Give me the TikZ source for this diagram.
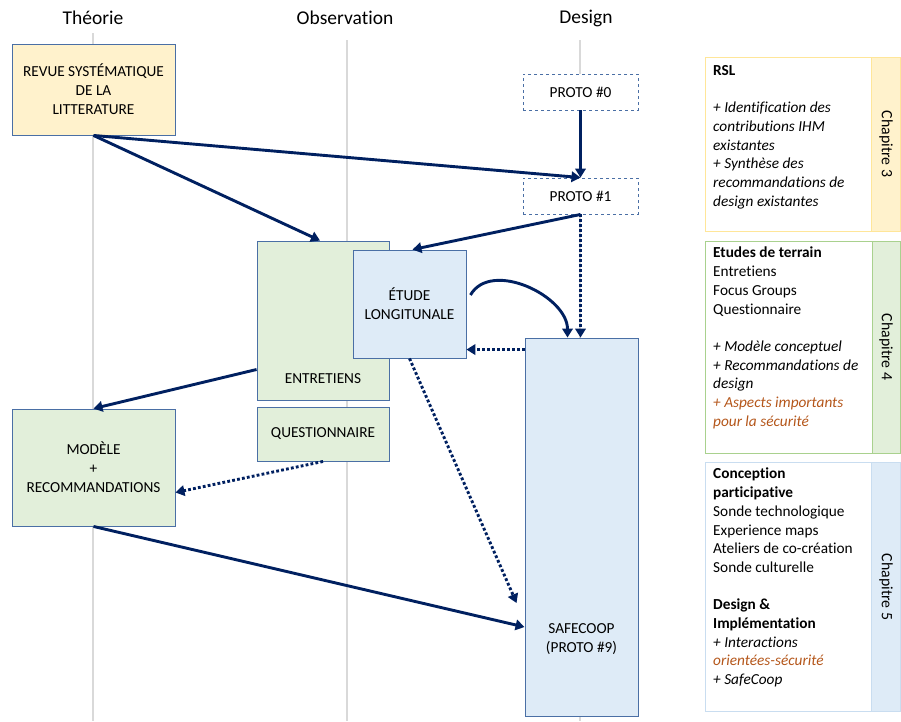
\documentclass[tikz,border=0pt]{standalone}
\usepackage{fontspec}
\setmainfont{Carlito}[Ligatures=NoCommon]
\usetikzlibrary{arrows.meta}
\definecolor{navy}{HTML}{002060}
\definecolor{boxline}{HTML}{4A6FA5}
\definecolor{yellowfill}{HTML}{FFF2CC}
\definecolor{greenfill}{HTML}{E2EFDA}
\definecolor{bluefill}{HTML}{DEEBF7}
\definecolor{guide}{HTML}{D9D9D9}
\definecolor{rust}{HTML}{B4561A}
\definecolor{yellowline}{HTML}{FFE699}
\definecolor{greenline}{HTML}{A9D18E}
\definecolor{blueline}{HTML}{C9DDF0}
\begin{document}
\begin{tikzpicture}[x=1pt,y=-1pt,
  box/.style={draw=boxline,line width=0.9pt,inner sep=0pt,align=center,font=\fontsize{15.3}{19}\selectfont},
  protobox/.style={box,dashed,fill=white,minimum width=115,minimum height=36},
  arr/.style={navy,line width=2.9pt,-{Triangle[length=9pt,width=10.5pt]}},
  dotarr/.style={arr,dash pattern=on 2.8pt off 2.2pt},
  guideline/.style={guide,line width=2.6pt},
  head/.style={font=\fontsize{19.5}{22}\selectfont},
  paneltext/.style={anchor=north west,inner sep=0pt,align=left,font=\fontsize{15.3}{18.7}\selectfont},
  chap/.style={rotate=-90,font=\fontsize{15.8}{18}\selectfont}]
\useasboundingbox (0,0) rectangle (901,721);
% columns
\node[head] (theorie) at (93,18) {Théorie};
\node[head] (observation) at (345,18) {Observation};
\node[head] (design) at (586,18) {Design};
\draw[guideline] (93,33) -- (93,721);
\draw[guideline] (347,40) -- (347,721);
\draw[guideline] (580,40) -- (580,721);
% boxes
\node[box,fill=yellowfill,minimum width=163,minimum height=91] (revue) at (93.5,89.5) {REVUE SYSTÉMATIQUE\\DE LA\\LITTERATURE};
\node[protobox] (proto0) at (580.5,92) {PROTO \#0};
\node[protobox] (proto1) at (580.5,196) {PROTO \#1};
\node[box,fill=greenfill,minimum width=132,minimum height=159,
  label={[font=\fontsize{15.3}{19}\selectfont,anchor=south,yshift=13pt]south:ENTRETIENS}] (entretiens) at (323,320.5) {};
\node[box,fill=bluefill,minimum width=113,minimum height=108] (etude) at (409.5,304) {ÉTUDE\\LONGITUNALE};
\node[box,fill=greenfill,minimum width=132,minimum height=54] (questionnaire) at (323,434) {QUESTIONNAIRE};
\node[box,fill=greenfill,minimum width=163,minimum height=117] (modele) at (93.5,467.5) {MODÈLE\\+\\RECOMMANDATIONS};
\node[box,fill=bluefill,minimum width=113,minimum height=378,
  label={[font=\fontsize{15.3}{19}\selectfont,align=center,anchor=center,yshift=-112pt]center:SAFECOOP\\(PROTO \#9)}] (safecoop) at (581.5,527) {};
% connectors
\draw[arr] (revue.south) -- (proto1.north);
\draw[arr] (revue.south) -- ([xshift=-3pt]entretiens.north);
\draw[arr] (proto0) -- (proto1);
\draw[arr] (proto1.south) -- ([xshift=3pt]etude.north);
\draw[dotarr] (proto1.south) -- (proto1.south |- safecoop.north);
\draw[arr] ([xshift=4pt,yshift=9pt]etude.east) to[out=60,in=90] ([xshift=-14pt]safecoop.north);
\draw[dotarr] ([yshift=-12pt]safecoop.north west) -- ([yshift=-12pt]safecoop.north west -| etude.east);
\draw[dotarr] (etude.south) -- ([xshift=-8pt,yshift=-76pt]safecoop.west);
\draw[arr] ([yshift=-49pt]entretiens.west) -- (modele.north);
\draw[dotarr] (questionnaire.south) -- ([yshift=-25pt]modele.east);
\draw[arr] (modele.south) -- ([yshift=-100pt]safecoop.west);
% chapters
\fill[yellowfill] (871,57) rectangle (900,231);
\draw[yellowline,line width=0.9pt] (705,57) rectangle (900,231) (871,57) -- (871,231);
\node[paneltext] (rsl) at (713,65) {\textbf{RSL}\\[18.7pt]
  \textit{+ Identification des}\\\textit{contributions IHM}\\\textit{existantes}\\
  \textit{+ Synthèse des}\\\textit{recommandations de}\\\textit{design existantes}};
\node[chap] (chap3) at (886,144) {Chapitre 3};
\fill[greenfill] (872,241) rectangle (900,453);
\draw[greenline,line width=0.9pt] (705,241) rectangle (900,453) (872,241) -- (872,453);
\node[paneltext] (terrain) at (713,247) {\textbf{Etudes de terrain}\\Entretiens\\Focus Groups\\Questionnaire\\[18.7pt]
  \textit{+ Modèle conceptuel}\\\textit{+ Recommandations de}\\\textit{design}\\
  \textcolor{rust}{\textit{+ Aspects importants}}\\\textcolor{rust}{\textit{pour la sécurité}}};
\node[chap] (chap4) at (886,347) {Chapitre 4};
\fill[bluefill] (871,462) rectangle (900,711);
\draw[blueline,line width=0.9pt] (705,462) rectangle (900,711) (871,462) -- (871,711);
\node[paneltext] (conception) at (713,468) {\textbf{Conception}\\\textbf{participative}\\Sonde technologique\\Experience maps\\
  Ateliers de co-création\\Sonde culturelle\\[18.7pt]
  \textbf{Design \&}\\\textbf{Implémentation}\\\textit{+ Interactions}\\\textcolor{rust}{\textit{orientées-sécurité}}\\\textit{+ SafeCoop}};
\node[chap] (chap5) at (886,587) {Chapitre 5};
\end{tikzpicture}
\end{document}
